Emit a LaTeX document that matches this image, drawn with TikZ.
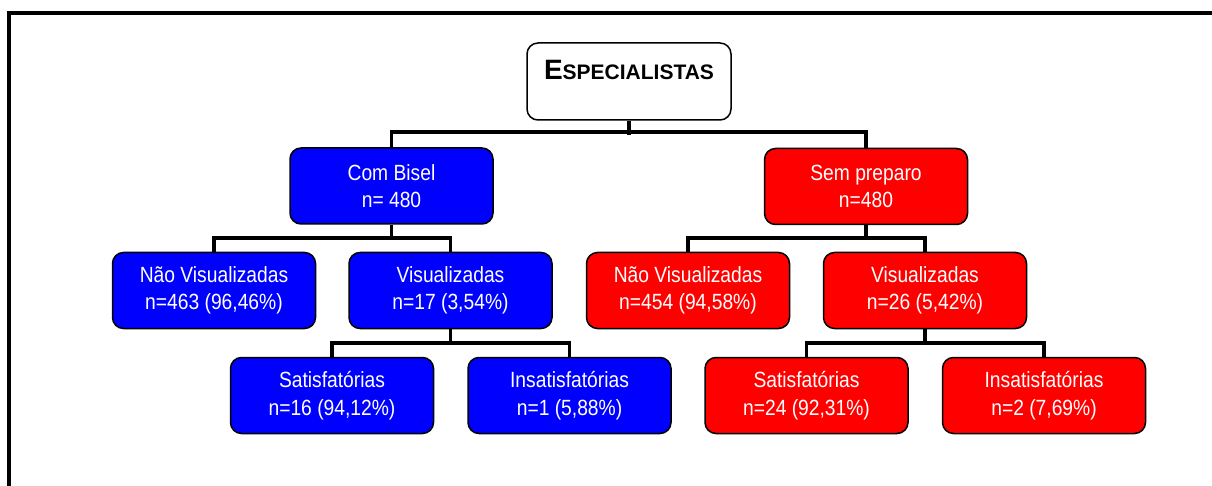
\documentclass[tikz,border=0pt]{standalone}
\usepackage{fontspec}
\setmainfont{Liberation Sans}
\newfontfamily\boxfont[FakeStretch=0.875]{Liberation Sans}
\newfontfamily\rootfont{Liberation Sans Bold}
\definecolor{bblue}{RGB}{0,0,255}
\definecolor{rred}{RGB}{255,0,0}
\tikzset{
  box/.style={draw=black, line width=1.5pt, rounded corners=11pt,
    minimum width=203pt, minimum height=76pt, inner sep=0pt,
    align=center, text=white,
    font=\boxfont\fontsize{22}{27.5}\selectfont},
  bluebox/.style={box, fill=bblue},
  redbox/.style={box, fill=rred},
  rootbox/.style={draw=black, line width=1.5pt, rounded corners=11pt,
    minimum width=204pt, minimum height=77pt, fill=white},
  conn/.style={draw=black, line width=3.8pt, line join=miter},
  frame/.style={draw=black, line width=4pt}
}
\begin{document}
\begin{tikzpicture}[x=1pt, y=-1pt]
\useasboundingbox (0,0) rectangle (1212,486);
\coordinate (fbl) at (9,486);
\coordinate (ftl) at (9,13);
\coordinate (ftr) at (1212,13);
\draw[frame] (fbl) -- (ftl) -- (ftr);

\node[rootbox] (root) at (629,81.5) {};
\node[anchor=base, inner sep=0pt, font=\rootfont] (roottext) at (629,79.3)
  {\fontsize{28}{30}\selectfont E\fontsize{21}{24}\selectfont SPECIALISTAS};

\node[bluebox] (bisel) at (391.5,186) {Com Bisel\\n= 480};
\node[redbox] (preparo) at (866,186.5) {Sem preparo\\n=480};

\node[bluebox] (bnv) at (214,290.5) {Não Visualizadas\\n=463 (96,46\%)};
\node[bluebox] (bv) at (450.5,290.5) {Visualizadas\\n=17 (3,54\%)};
\node[redbox] (rnv) at (688,290.5) {Não Visualizadas\\n=454 (94,58\%)};
\node[redbox] (rv) at (925,290.5) {Visualizadas\\n=26 (5,42\%)};

\node[bluebox] (bs) at (332,395.5) {Satisfatórias\\n=16 (94,12\%)};
\node[bluebox] (bi) at (569.5,395.5) {Insatisfatórias\\n=1 (5,88\%)};
\node[redbox] (rs) at (806.5,395.5) {Satisfatórias\\n=24 (92,31\%)};
\node[redbox] (ri) at (1044,395.5) {Insatisfatórias\\n=2 (7,69\%)};

% level 1
\draw[conn] (root.south) -- ++(0,14);
\draw[conn] (bisel.north) -- ++(0,-15) -| (preparo.north);
% level 2
\draw[conn] (bisel.south) -- ++(0,15);
\draw[conn] (bnv.north) -- ++(0,-14) -| (bv.north);
\draw[conn] (preparo.south) -- ++(0,15);
\draw[conn] (rnv.north) -- ++(0,-14) -| (rv.north);
% level 3
\draw[conn] (bv.south) -- ++(0,16);
\draw[conn] (bs.north) -- ++(0,-14) -| (bi.north);
\draw[conn] (rv.south) -- ++(0,16);
\draw[conn] (rs.north) -- ++(0,-14) -| (ri.north);
\end{tikzpicture}
\end{document}
